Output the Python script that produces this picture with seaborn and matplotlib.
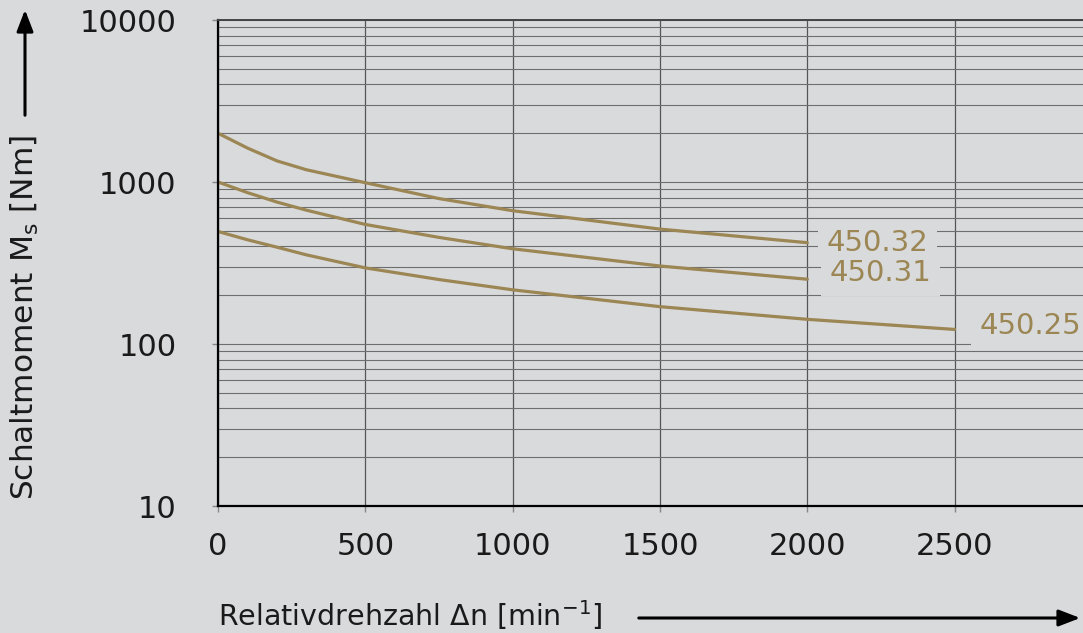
import numpy as np
import pandas as pd
import seaborn as sns
import matplotlib.pyplot as plt
from matplotlib.patches import FancyArrowPatch
from matplotlib.ticker import FixedLocator, NullFormatter

# values
drehzahl = [0, 100, 200, 300, 500, 750, 1000, 1500, 2000, 2500]
m_45032 = [2000, 1620, 1350, 1190, 990, 790, 665, 512, 422]
m_45031 = [1000, 860, 752, 670, 547, 455, 387, 303, 251]
m_45025 = [495, 440, 396, 355, 295, 250, 216, 170, 142, 123]
typen = ['450.32', '450.31', '450.25']

x_ticks = [0, 500, 1000, 1500, 2000, 2500]
y_ticks = [10, 100, 1000, 10000]
y_ticklabels = ['10', '100', '1000', '10000']

bg = '#d9dadc'
gold = '#9b8654'

sns.set_style('ticks', rc={'axes.facecolor': bg, 'figure.facecolor': bg})
plt.rcParams['font.family'] = ['DejaVu Sans']

# long-form table for seaborn
rows = []
for typ, werte in zip(typen, [m_45032, m_45031, m_45025]):
    for n, m in zip(drehzahl, werte):
        rows.append({'n': n, 'M': m, 'Typ': typ})
df = pd.DataFrame(rows)

fig = plt.figure(figsize=(10.83, 6.33), dpi=100)
ax = fig.add_axes([218 / 1083, 127 / 633, (1102 - 218) / 1083, 486 / 633])

sns.lineplot(data=df, x='n', y='M', hue='Typ', palette=[gold] * 3,
             legend=False, linewidth=2.3, ax=ax)

ax.set_yscale('log')
ax.set_xlim(0, 3000)
ax.set_ylim(10, 10000)
ax.set_yticks(y_ticks)
ax.set_yticklabels(y_ticklabels)
ax.yaxis.set_minor_locator(FixedLocator([k * 10 ** e for e in range(1, 4) for k in range(2, 10)]))
ax.yaxis.set_minor_formatter(NullFormatter())
ax.set_xticks(x_ticks)
ax.set_xticklabels([str(v) for v in x_ticks])
ax.set_xlabel('')
ax.set_ylabel('')

ax.tick_params(axis='both', which='major', labelsize=22, colors='#888888',
               labelcolor='#1a1a1a', length=4, width=1)
ax.tick_params(axis='y', which='major', pad=26)
ax.tick_params(axis='x', which='major', pad=15)
ax.tick_params(axis='y', which='minor', length=0)

ax.set_axisbelow(True)
ax.grid(True, which='both', axis='y', color='#6e6e6e', lw=0.8)
ax.grid(True, which='major', axis='x', color='#555555', lw=0.9)

for side in ['left', 'bottom']:
    ax.spines[side].set_color('black')
    ax.spines[side].set_linewidth(1.6)
ax.spines['top'].set_visible(True)
ax.spines['top'].set_color('#444444')
ax.spines['top'].set_linewidth(1.4)
ax.spines['right'].set_visible(False)

# curve labels next to the line ends
offsets = [(19, 0), (22, 6), (25, 3)]
for typ, (dx, dy) in zip(typen, offsets):
    sub = df[df['Typ'] == typ]
    ax.annotate(typ, xy=(sub['n'].iloc[-1], sub['M'].iloc[-1]), xytext=(dx, dy),
                textcoords='offset pixels', ha='left', va='center',
                color=gold, fontsize=21,
                bbox=dict(boxstyle='square,pad=0.3', fc=bg, ec='none'))

# axis titles with arrows
fig.text(25 / 1083, 1 - 317 / 633, r'Schaltmoment M$_\mathregular{s}$ [Nm]',
         rotation=90, ha='center', va='center', fontsize=22.5, color='#1a1a1a')
fig.text(218 / 1083, 1 - 615 / 633, r'Relativdrehzahl Δn [min$^{\mathregular{-1}}$]',
         ha='left', va='center', fontsize=20.5, color='#1a1a1a')

arrow_kw = dict(arrowstyle='-|>,head_length=0.65,head_width=0.25', mutation_scale=20,
                lw=2.2, color='black', transform=fig.transFigure)
fig.add_artist(FancyArrowPatch((25 / 1083, 1 - 118 / 633), (25 / 1083, 1 - 7 / 633), **arrow_kw))
fig.add_artist(FancyArrowPatch((636 / 1083, 1 - 618 / 633), (1083 / 1083, 1 - 618 / 633), **arrow_kw))

fig.savefig('out.png', dpi=100, facecolor=bg)
